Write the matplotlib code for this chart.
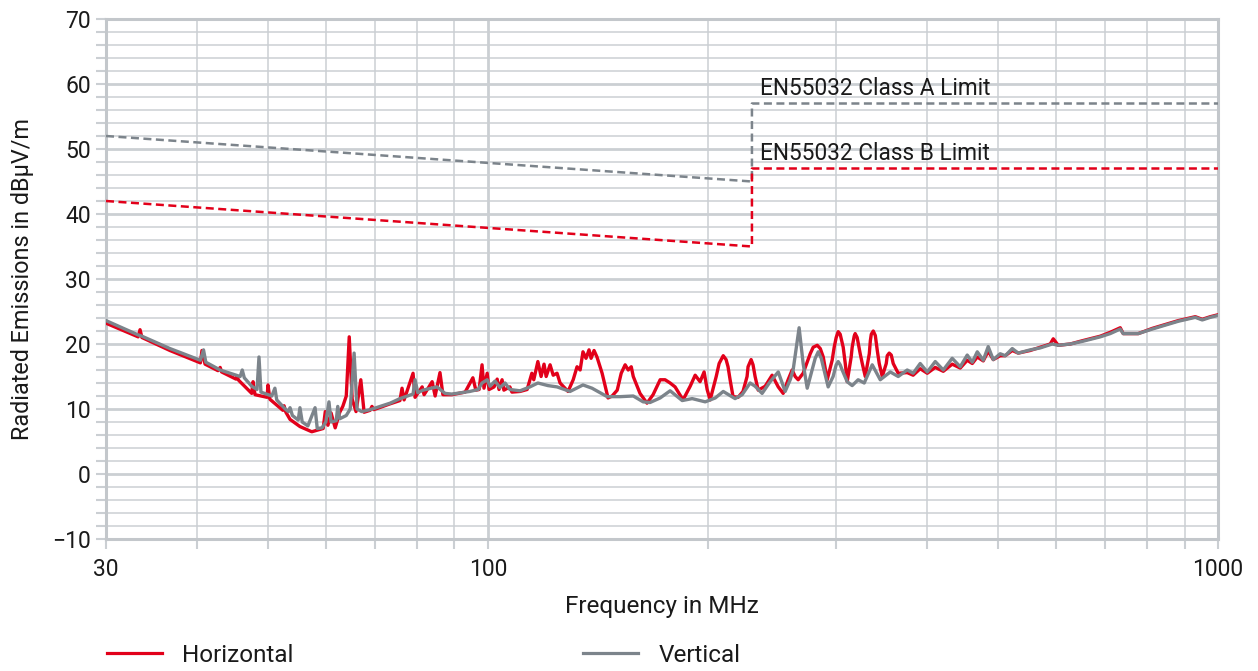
import matplotlib
matplotlib.use("Agg")
import matplotlib.pyplot as plt
from matplotlib.lines import Line2D
from matplotlib.ticker import FixedLocator, NullFormatter

plt.rcParams['font.family'] = ['Roboto', 'DejaVu Sans']

# ---------------- data ----------------
horiz_freq = [30.0, 33.2, 33.4, 33.6, 36.7, 40.4, 40.6, 41.0, 42.7, 43.0, 43.2, 45.2, 45.3, 45.6,
              47.5, 47.7, 48.0, 49.85, 50.0, 50.3, 52.4, 52.6, 52.9, 53.6, 55.3, 57.4,
              59.5, 59.9, 60.4, 61.0, 61.8, 62.7, 63.3, 64.0, 64.6, 65.2, 66.0, 67.0, 67.7,
              69.0, 69.4, 69.8, 73.5, 75.8, 76.3, 76.8, 79.0, 79.5, 81.3, 81.8, 83.9, 84.7,
              86.0, 86.8, 89.3, 93.1, 95.4, 96.3, 97.3, 98.2, 98.8, 99.8, 100.4, 102.0,
              103.0, 103.6, 104.6, 105.2, 107.2, 107.9, 110.7, 113.2, 114.9, 115.6, 117.1,
              118.3, 119.4, 120.2, 121.7, 122.9, 124.4, 125.6, 128.8, 130.9, 132.5, 133.8,
              135.0, 136.3, 137.6, 138.5, 139.8, 141.1, 143.4, 146.1, 148.0, 150.4, 152.3,
              154.2, 155.7, 157.2, 158.2, 161.6, 165.2, 168.4, 172.2, 174.9, 177.7, 180.5,
              185.1, 189.3, 192.3, 195.3, 197.8, 199.7, 201.6, 205.5, 207.4, 210.1, 212.0,
              213.3, 214.7, 216.7, 220.2, 223.6, 226.5, 227.2, 229.4, 230.8, 232.3, 234.6,
              239.8, 245.1, 249.9, 253.8, 257.8, 261.1, 263.6, 266.1, 270.3, 276.4, 279.0,
              282.6, 285.3, 288.0, 291.6, 296.2, 298.1, 300.0, 301.9, 303.8, 306.7, 308.7,
              310.6, 314.5, 315.5, 317.5, 318.5, 320.5, 323.6, 325.7, 328.8, 333.0, 334.1,
              335.1, 337.2, 339.4, 341.5, 343.6, 346.9, 351.3, 352.4, 354.6, 356.9, 359.1,
              364.8, 375.3, 382.4, 391.0, 399.8, 410.0, 420.5, 432.5, 443.6, 453.5,
              460.8, 468.1, 477.0, 484.5, 492.3, 503.2, 511.3, 522.7, 532.6, 553.1, 570.9,
              589.2, 594.8, 604.2, 627.6, 651.7, 689.8, 711.9, 734.7, 741.7, 777.7, 812.7,
              846.8, 882.3, 930.9, 951.6, 975.9, 1000.0]
horiz_db = [23.2, 21.1, 22.2, 21.0, 19.0, 17.1, 19.0, 16.9, 15.9, 16.4, 15.7, 14.6, 15.0, 14.4,
            12.4, 14.2, 12.2, 11.8, 13.7, 11.5, 9.8, 10.5, 9.5, 8.4, 7.3, 6.5,
            7.0, 9.6, 7.5, 9.4, 7.1, 9.5, 10.4, 12.0, 21.1, 11.5, 9.6, 14.5, 9.5,
            9.8, 10.4, 9.9, 10.8, 11.3, 13.2, 11.4, 15.5, 11.8, 13.4, 12.2, 14.2, 12.0,
            15.6, 12.2, 12.2, 12.6, 14.8, 12.9, 13.0, 16.8, 13.2, 15.5, 13.0, 13.4,
            14.6, 13.0, 14.5, 12.9, 13.4, 12.6, 12.7, 13.0, 15.5, 14.5, 17.3,
            15.0, 16.9, 15.0, 16.8, 15.2, 15.5, 14.0, 12.7, 14.5, 16.5, 16.0,
            18.8, 17.8, 19.1, 17.8, 19.0, 18.0, 15.5, 11.7, 12.0, 12.9, 15.5,
            16.8, 16.0, 16.5, 15.0, 12.4, 10.9, 12.2, 14.5, 14.5, 14.0, 13.4,
            11.4, 13.5, 15.2, 14.2, 15.7, 13.0, 11.4, 15.0, 17.0, 18.2, 17.6,
            16.5, 14.5, 11.9, 11.8, 12.7, 15.0, 16.5, 17.6, 16.8, 15.0, 12.9,
            13.5, 15.2, 13.4, 12.4, 14.5, 16.0, 15.0, 14.5, 15.5, 18.5, 19.5,
            19.8, 19.3, 18.0, 14.5, 17.5, 19.5, 21.0, 21.9, 21.5, 19.5, 17.0,
            14.2, 18.0, 19.5, 21.2, 21.6, 21.0, 18.5, 17.0, 15.0, 18.5, 20.5,
            21.5, 22.0, 21.3, 19.0, 17.0, 15.0, 17.0, 18.2, 18.6, 18.3, 17.0,
            15.5, 15.6, 15.2, 16.2, 15.5, 16.4, 15.8, 16.9, 16.3, 17.5,
            17.0, 18.0, 17.4, 18.9, 17.6, 18.2, 18.2, 19.0, 18.6, 19.0, 19.5,
            20.0, 20.8, 19.8, 20.0, 20.5, 21.2, 21.8, 22.5, 21.6, 21.6, 22.4,
            23.0, 23.6, 24.2, 23.8, 24.2, 24.5]

vert_freq = [30.0, 33.2, 33.6, 36.7, 40.4, 40.8, 41.1, 43.0, 45.8, 46.1, 46.4, 47.5, 48.3,
             48.6, 48.9, 50.0, 50.6, 51.1, 51.4, 52.8, 53.3, 53.6, 54.0, 55.0, 55.3, 55.7,
             56.7, 58.0, 58.4, 59.3, 60.0, 60.6, 61.0, 62.0, 62.3, 62.7, 64.0, 64.8, 65.6,
             66.2, 67.2, 69.0, 73.5, 75.8, 79.0, 79.5, 80.2, 81.5, 85.2, 87.4, 89.3, 94.5,
             97.0, 98.2, 99.8, 100.7, 102.3, 103.9, 105.6, 107.2, 110.7, 114.2, 117.1,
             120.9, 124.4, 129.6, 135.0, 138.9, 145.7, 151.8, 158.2, 163.2, 166.8, 172.2,
             177.7, 184.6, 190.5, 198.5, 204.9, 210.1, 218.1, 223.0, 228.7, 232.3, 237.5,
             243.6, 249.9, 255.4, 259.5, 261.9, 266.9, 270.3, 273.8, 278.1, 280.8, 283.5,
             286.2, 288.0, 292.5, 297.1, 300.0, 301.9, 303.8, 305.7, 310.6, 315.5, 321.5,
             327.7, 336.1, 344.7, 355.8, 364.8, 375.3, 382.4, 391.0, 399.8, 410.0, 420.5,
             432.5, 443.6, 453.5, 460.8, 468.1, 477.0, 484.5, 492.3, 503.2, 511.3, 522.7,
             532.6, 553.1, 570.9, 592.9, 604.2, 627.6, 651.7, 689.8, 711.9, 734.7, 741.7,
             777.7, 812.7, 846.8, 882.3, 930.9, 951.6, 975.9, 1000.0]
vert_db = [23.6, 21.4, 21.2, 19.3, 17.5, 19.1, 17.2, 16.0, 15.0, 16.0, 14.8, 13.5, 13.0,
           18.0, 12.6, 12.2, 12.0, 13.2, 11.4, 10.0, 9.6, 10.2, 9.0, 8.3, 10.2, 8.0,
           7.4, 10.2, 7.0, 7.1, 8.0, 11.1, 8.0, 8.2, 10.4, 8.5, 9.0, 10.0, 18.6,
           10.0, 9.6, 9.9, 10.9, 11.6, 12.3, 14.5, 12.5, 12.9, 13.4, 12.4, 12.3, 12.7,
           13.0, 14.0, 14.5, 13.5, 14.3, 13.3, 14.0, 13.0, 12.8, 13.4, 14.0,
           13.6, 13.4, 12.7, 13.7, 13.2, 11.9, 11.9, 12.0, 11.1, 11.0, 11.7,
           12.8, 11.3, 11.6, 11.1, 11.7, 12.7, 11.6, 12.2, 14.0, 13.5, 12.4,
           14.2, 15.7, 12.7, 14.5, 16.0, 22.5, 17.0, 13.2, 16.0, 17.8, 18.8,
           17.8, 16.5, 13.4, 15.0, 16.8, 17.3, 16.8, 16.0, 14.2, 13.6, 14.5,
           14.0, 16.8, 14.5, 15.7, 15.0, 16.0, 15.5, 17.0, 15.7, 17.3, 16.0,
           17.8, 16.5, 18.3, 17.2, 18.8, 17.5, 19.6, 17.6, 18.5, 18.2, 19.3,
           18.6, 19.1, 19.4, 20.0, 19.8, 20.0, 20.4, 21.1, 21.6, 22.3, 21.6,
           21.6, 22.3, 22.9, 23.5, 24.1, 23.7, 24.1, 24.4]

limit_freq = [30, 230, 230, 1000]
class_a_db = [52, 45, 57, 57]
class_b_db = [42, 35, 47, 47]

series_labels = ["Horizontal", "Vertical"]
limit_labels = ["EN55032 Class A Limit", "EN55032 Class B Limit"]
x_major = [30, 100, 1000]
x_major_labels = ["30", "100", "1000"]
x_minor = [40, 50, 60, 70, 80, 90, 200, 300, 400, 500, 600, 700, 800, 900]
y_major = list(range(-10, 71, 10))
y_minor = list(range(-10, 71, 2))

# ---------------- style ----------------
RED = "#e2001a"
GRAY = "#7c848b"
GRID = "#cbcfd3"
TXT = "#1a1a1a"

W, H = 1258, 671
fig = plt.figure(figsize=(W / 100, H / 100), dpi=100)
ax = fig.add_axes([106 / W, 1 - 539 / H, (1218 - 106) / W, (539 - 19) / H])

ax.set_xscale("log")
ax.set_xlim(30, 1000)
ax.set_ylim(-10, 70)

ax.xaxis.set_major_locator(FixedLocator(x_major))
ax.set_xticklabels(x_major_labels)
ax.xaxis.set_minor_locator(FixedLocator(x_minor))
ax.xaxis.set_minor_formatter(NullFormatter())
ax.yaxis.set_major_locator(FixedLocator(y_major))
ax.set_yticklabels([("\u2212" + str(-v)) if v < 0 else str(v) for v in y_major])
ax.yaxis.set_minor_locator(FixedLocator(y_minor))

ax.grid(which="major", color=GRID, linewidth=2.0)
ax.grid(which="minor", color=GRID, linewidth=1.1)
ax.set_axisbelow(True)

for s in ax.spines.values():
    s.set_color("#c3c7cb")
    s.set_linewidth(2.2)

ax.tick_params(which="both", color=GRID, width=1.5, length=7, labelsize=16.5,
               labelcolor=TXT, pad=4)
ax.tick_params(axis="x", which="major", pad=7)

# limit lines
ax.plot(limit_freq, class_a_db, color=GRAY, lw=1.8, dashes=(3.2, 1.8), zorder=3)
ax.plot(limit_freq, class_b_db, color=RED, lw=1.8, dashes=(3.2, 1.8), zorder=3)
ax.text(236, class_a_db[2] + 0.6, limit_labels[0], fontsize=16.3, color=TXT, va="bottom", ha="left")
ax.text(236, class_b_db[2] + 0.6, limit_labels[1], fontsize=16.3, color=TXT, va="bottom", ha="left")

# measured data
ax.plot(horiz_freq, horiz_db, color=RED, lw=2.4, zorder=4, solid_joinstyle="round")
ax.plot(vert_freq, vert_db, color=GRAY, lw=2.4, zorder=5, solid_joinstyle="round")

ax.set_xlabel("Frequency in MHz", fontsize=17.5, color=TXT, labelpad=10)
ax.set_ylabel("Radiated Emissions in dB\u00b5V/m", fontsize=16.8, color=TXT, labelpad=13)

handles = [Line2D([], [], color=RED, lw=2.3), Line2D([], [], color=GRAY, lw=2.3)]
fig.legend(handles, series_labels, loc="center left", ncol=2, frameon=False,
           bbox_to_anchor=(107 / W, 1 - 655 / H), fontsize=17.5, handlelength=2.25,
           handletextpad=0.85, columnspacing=11.9, labelcolor=TXT,
           borderpad=0, borderaxespad=0)

fig.savefig("out.png", dpi=100)
